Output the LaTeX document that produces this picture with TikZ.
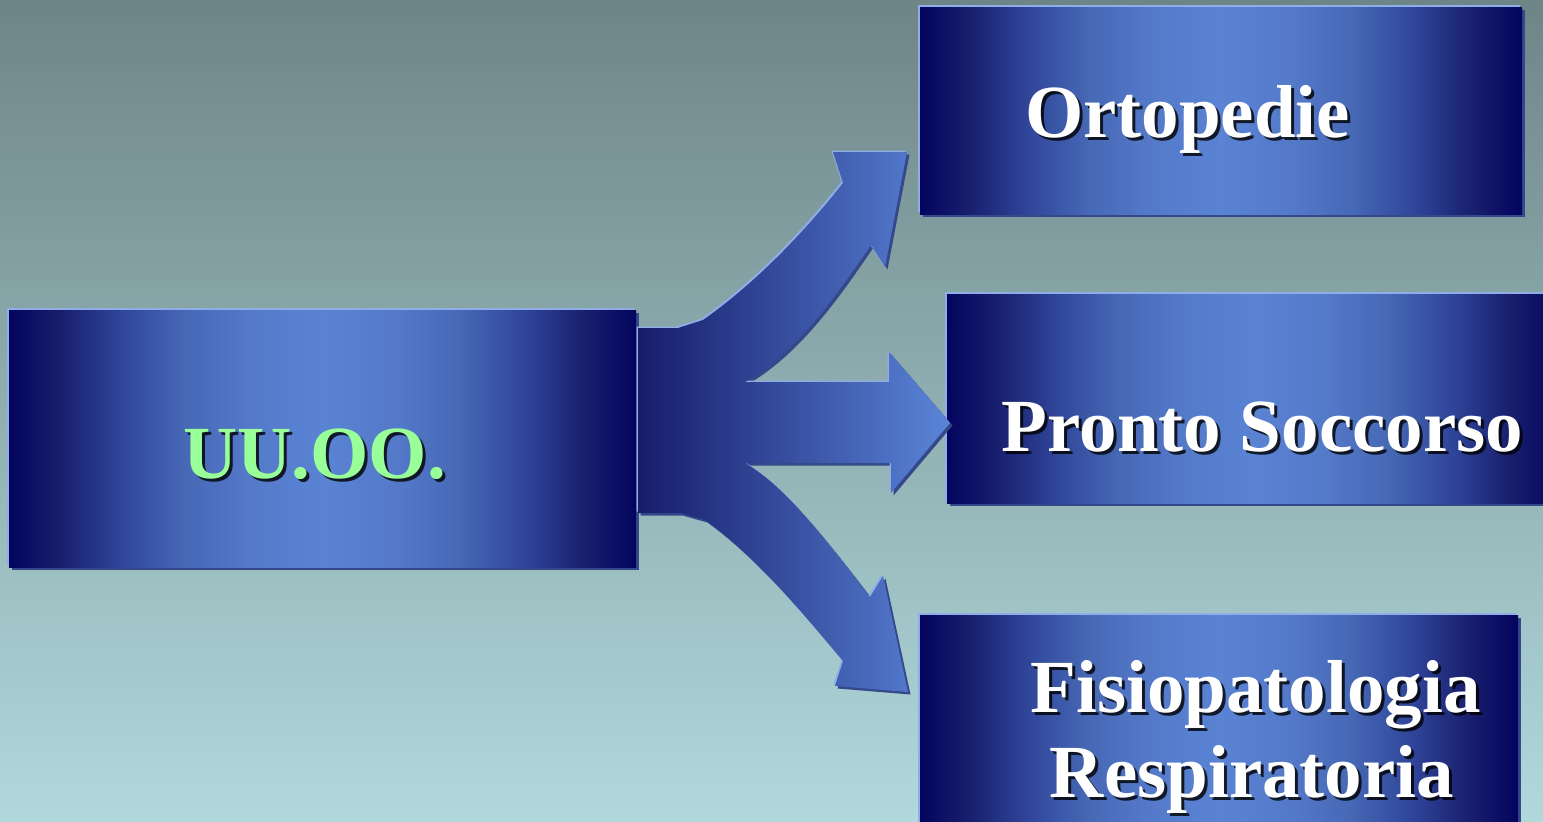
\documentclass[tikz,border=0pt]{standalone}
\usepackage{fontspec}
\setmainfont{Liberation Serif}
\definecolor{bgtop}{HTML}{6E8588}
\definecolor{bgbot}{HTML}{B1D9DC}
\definecolor{bxA}{HTML}{04045E}
\definecolor{bxB}{HTML}{181E6D}
\definecolor{bxC}{HTML}{30469A}
\definecolor{bxD}{HTML}{4668B5}
\definecolor{bxE}{HTML}{5479C9}
\definecolor{bxF}{HTML}{5A83D4}
\definecolor{hl}{HTML}{8FAEE8}
\definecolor{shd}{HTML}{34488A}
\definecolor{arL}{HTML}{171C6B}
\definecolor{arR}{HTML}{5A85D8}
\definecolor{uugreen}{HTML}{99FF99}
\pgfdeclarehorizontalshading{boxshade}{100bp}{color(0bp)=(bxA); color(25bp)=(bxA); color(29bp)=(bxB); color(34bp)=(bxC); color(39bp)=(bxD); color(44bp)=(bxE); color(50bp)=(bxF); color(56bp)=(bxE); color(61bp)=(bxD); color(66bp)=(bxC); color(71bp)=(bxB); color(75bp)=(bxA); color(100bp)=(bxA)}
\newcommand{\bluebox}[4]{%
  \fill[shd] (#1+3,#2+3) rectangle (#3+3,#4+3);
  \fill[hl] (#1-2,#2-2) rectangle (#3-2,#4-2);
  \shade[shading=boxshade] (#1,#2) rectangle (#3,#4);}
\newcommand{\arrowpath}{(638,328) -- (678,328) -- (703,320) .. controls (760,280) and (810,225) .. (843,183)
  -- (833,152) -- (907,152) -- (885,267) -- (871,245)
  .. controls (840,290) and (800,350) .. (745,382)
  -- (889,382) -- (889,352) -- (950,423) -- (891,493) -- (891,463) -- (745,463)
  .. controls (777,482) and (805,512) .. (870,597)
  -- (883,576) -- (908,692) -- (835,686) -- (843,661)
  .. controls (810,622) and (760,560) .. (705,520) -- (680,513)
  -- (638,513) -- cycle}
\tikzset{lbl/.style={font=\fontsize{75}{85}\selectfont\bfseries, anchor=base, inner sep=0pt},
  lblshadow/.style={lbl, text=black, opacity=.8}}
\begin{document}
\begin{tikzpicture}[x=1pt,y=-1pt]
\useasboundingbox (0,0) rectangle (1543,822);
\clip (0,0) rectangle (1543,822);
\fill[top color=bgtop, bottom color=bgbot] (0,0) rectangle (1543,822);
% boxes
\bluebox{9}{310}{636}{567}
\bluebox{920}{7}{1522}{214}
\bluebox{947}{294}{1560}{503}
\bluebox{920}{615}{1518}{840}
% branching arrow
\fill[shd] [shift={(2.5,2.5)}] \arrowpath;
\fill[hl] [shift={(-1.5,-1.5)}] \arrowpath;
\shade[left color=arL, right color=arR] \arrowpath;
% labels
\node[lblshadow] (uus) at (317.5,481) {UU.OO.};
\node[lbl, text=uugreen] (uu) at (314.5,478) {UU.OO.};
\node[lblshadow] (ors) at (1190.5,140) {Ortopedie};
\node[lbl, text=white] (or) at (1187.5,137) {Ortopedie};
\node[lblshadow] (pss) at (1265.5,454) {Pronto Soccorso};
\node[lbl, text=white] (ps) at (1262.5,451) {Pronto Soccorso};
\node[lblshadow] (fis) at (1258.5,715) {Fisiopatologia};
\node[lbl, text=white] (fi) at (1255.5,712) {Fisiopatologia};
\node[lblshadow] (res) at (1255,800) {Respiratoria};
\node[lbl, text=white] (re) at (1252,797) {Respiratoria};
\end{tikzpicture}
\end{document}
